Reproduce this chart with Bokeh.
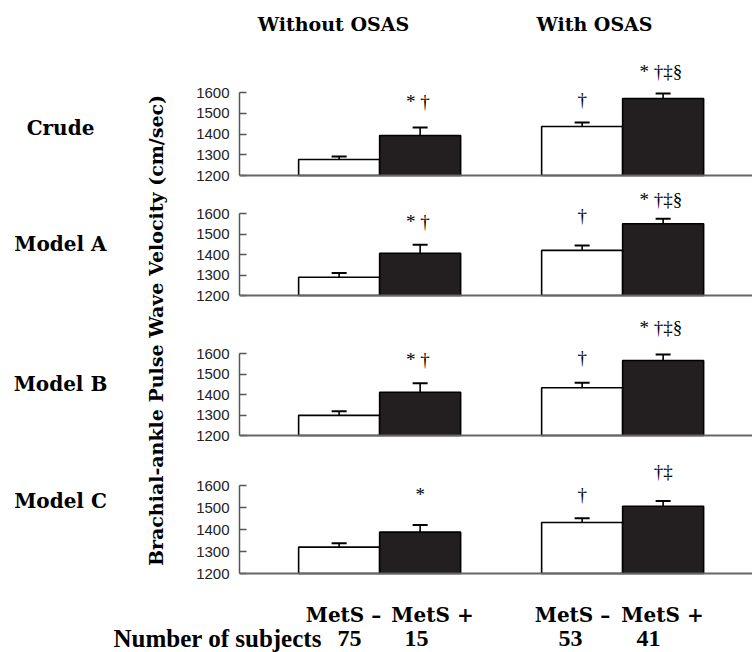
import math
from bokeh.plotting import figure
from bokeh.layouts import column, row
from bokeh.models import Range1d, FixedTicker, Span, Label, ColumnDataSource
from bokeh.embed import file_html
from bokeh.resources import INLINE
from bokeh.core.properties import value

# ---------------- data ----------------
group_titles = ["Without OSAS", "With OSAS"]
model_names = ["Crude", "Model A", "Model B", "Model C"]
mets_labels = ["MetS \u2013", "MetS +", "MetS \u2013", "MetS +"]
n_subjects = ["75", "15", "53", "41"]
y_ticks = [1200, 1300, 1400, 1500, 1600]
y_title = "Brachial-ankle Pulse Wave Velocity (cm/sec)"

# order: [without OSAS MetS-, without OSAS MetS+, with OSAS MetS-, with OSAS MetS+]
crude_mean = [1277, 1393, 1436, 1571]
crude_se = [15, 38, 19, 24]
model_a_mean = [1289, 1406, 1420, 1550]
model_a_se = [21, 41, 24, 24]
model_b_mean = [1298, 1411, 1433, 1566]
model_b_se = [20, 44, 24, 29]
model_c_mean = [1320, 1388, 1432, 1506]
model_c_se = [18, 33, 19, 23]

crude_sig = ["", "*  \u2020", "\u2020", "*  \u2020\u2021\u00a7"]
model_a_sig = ["", "*  \u2020", "\u2020", "*  \u2020\u2021\u00a7"]
model_b_sig = ["", "*  \u2020", "\u2020", "*  \u2020\u2021\u00a7"]
model_c_sig = ["", "*", "\u2020", "\u2020\u2021"]

# ---------------- layout / style ----------------
bar_x = [-0.5, 0.5, 2.5, 3.5]
bar_fill = ["white", "#231f20", "white", "#231f20"]
SERIF_B = "DejaVu Serif"

TOTAL_W = 752
LEFT_W = 168
PANEL_W = TOTAL_W - LEFT_W
HEADER_H = 45
FOOTER_H = 69
AXIS_X = 239

# page geometry of panels: (band_top, band_bottom, y_of_1600, y_of_1200)
bands = [(45, 185, 92, 175), (185, 305, 213, 295), (305, 445, 353, 435), (445, 583, 485, 573)]
sig_offsets = [[0, 26, 23, 22], [0, 23, 30, 19], [0, 24, 25, 27], [0, 30, 24, 30]]

BAR_PX = 81.0
X0 = -1.73
X1 = X0 + (TOTAL_W - AXIS_X) / BAR_PX


def make_panel(means, ses, sigs, offs, band):
    band_top, band_bottom, t, b = band
    s = (b - t) / 400.0
    pad = 3
    H = band_bottom - band_top
    y0 = 1200 - pad / s
    y1 = 1200 + (b - band_top) / s
    p = figure(width=PANEL_W, height=H, output_backend="svg", toolbar_location=None,
               x_range=Range1d(X0, X1), y_range=Range1d(y0, y1),
               x_axis_location=None, y_axis_location="left",
               min_border_left=AXIS_X - LEFT_W, min_border_right=0, min_border_top=0,
               min_border_bottom=band_bottom - b - pad)
    p.outline_line_color = None
    p.xgrid.visible = False
    p.ygrid.visible = False
    p.background_fill_color = "white"
    p.border_fill_color = "white"

    ax = p.yaxis[0]
    ax.ticker = FixedTicker(ticks=y_ticks)
    ax.bounds = (1200, 1600)
    ax.major_tick_in = 7
    ax.major_tick_out = 0
    ax.minor_tick_in = 0
    ax.minor_tick_out = 0
    ax.axis_line_color = "#555555"
    ax.axis_line_width = 1.5
    ax.major_tick_line_color = "#555555"
    ax.major_tick_line_width = 1.5
    ax.major_label_text_font = "Liberation Sans"
    ax.major_label_text_font_size = "15px"
    ax.major_label_text_color = "#222222"
    ax.major_label_standoff = 10

    ups = [m + e for m, e in zip(means, ses)]
    src = ColumnDataSource(dict(x=bar_x, top=means, up=ups, fill=bar_fill,
                                sig=sigs, off=[-o for o in offs]))
    p.vbar(x="x", top="top", bottom=1200, width=1.0, fill_color="fill",
           line_color="black", line_width=1.6, source=src)
    p.segment(x0="x", y0="top", x1="x", y1="up", line_color="black", line_width=1.6, source=src)
    p.dash(x="x", y="up", size=15, line_width=2, line_color="black", source=src)
    p.text(x="x", y="up", text="sig", y_offset="off", text_align="center",
           text_baseline="middle", text_font=value("Liberation Serif"),
           text_font_size="19px", text_color="black", source=src)
    p.add_layout(Span(location=1200, dimension="width", line_color="#666666", line_width=2))
    return p


def blank(w, h):
    f = figure(width=w, height=h, output_backend="svg", toolbar_location=None,
               x_range=Range1d(0, w), y_range=Range1d(0, h),
               x_axis_location=None, y_axis_location=None,
               min_border=0, min_border_left=0, min_border_right=0,
               min_border_top=0, min_border_bottom=0)
    f.outline_line_color = None
    f.xgrid.visible = False
    f.ygrid.visible = False
    return f


panels = [
    make_panel(crude_mean, crude_se, crude_sig, sig_offsets[0], bands[0]),
    make_panel(model_a_mean, model_a_se, model_a_sig, sig_offsets[1], bands[1]),
    make_panel(model_b_mean, model_b_se, model_b_sig, sig_offsets[2], bands[2]),
    make_panel(model_c_mean, model_c_se, model_c_sig, sig_offsets[3], bands[3]),
]

# header
header = blank(TOTAL_W, HEADER_H)
for name, cx in zip(group_titles, [333, 594]):
    header.add_layout(Label(x=cx, y=HEADER_H - 23, x_units="screen", y_units="screen", text=name,
                            text_align="center", text_baseline="middle",
                            text_font=SERIF_B, text_font_size="19px",
                            text_font_style="bold", text_color="black"))

# left column: model names and y title
LEFT_TOP = bands[0][0]
LEFT_BOTTOM = bands[-1][1]
LEFT_H = LEFT_BOTTOM - LEFT_TOP
left = blank(LEFT_W, LEFT_H)
for name, py in zip(model_names, [127, 243, 383, 500]):
    left.add_layout(Label(x=60, y=LEFT_BOTTOM - py, x_units="screen", y_units="screen", text=name,
                          text_align="center", text_baseline="middle",
                          text_font=SERIF_B, text_font_size="20px",
                          text_font_style="bold", text_color="black"))
left.add_layout(Label(x=155, y=LEFT_BOTTOM - 330, x_units="screen", y_units="screen", text=y_title,
                      angle=math.pi / 2, text_align="center", text_baseline="middle",
                      text_font=SERIF_B, text_font_size="19px",
                      text_font_style="bold", text_color="black"))

# footer
footer = blank(TOTAL_W, FOOTER_H)
FOOT_TOP = LEFT_BOTTOM
for lab, cx in zip(mets_labels, [343, 432, 572, 662]):
    footer.add_layout(Label(x=cx, y=FOOT_TOP + FOOTER_H - 614, x_units="screen", y_units="screen",
                            text=lab, text_align="center", text_baseline="alphabetic",
                            text_font=SERIF_B, text_font_size="20px",
                            text_font_style="bold", text_color="black"))
footer.add_layout(Label(x=113, y=FOOT_TOP + FOOTER_H - 638, x_units="screen", y_units="screen",
                        text="Number of subjects", text_align="left", text_baseline="alphabetic",
                        text_font="Liberation Serif", text_font_size="25px",
                        text_font_style="bold", text_color="black"))
for lab, cx in zip(n_subjects, [349, 416, 570, 648]):
    footer.add_layout(Label(x=cx, y=FOOT_TOP + FOOTER_H - 638, x_units="screen", y_units="screen",
                            text=lab, text_align="center", text_baseline="alphabetic",
                            text_font="Liberation Serif", text_font_size="24px",
                            text_font_style="bold", text_color="black"))

layout = column(header, row(left, column(*panels)), footer)

open("out.html", "w").write(file_html(layout, INLINE))
